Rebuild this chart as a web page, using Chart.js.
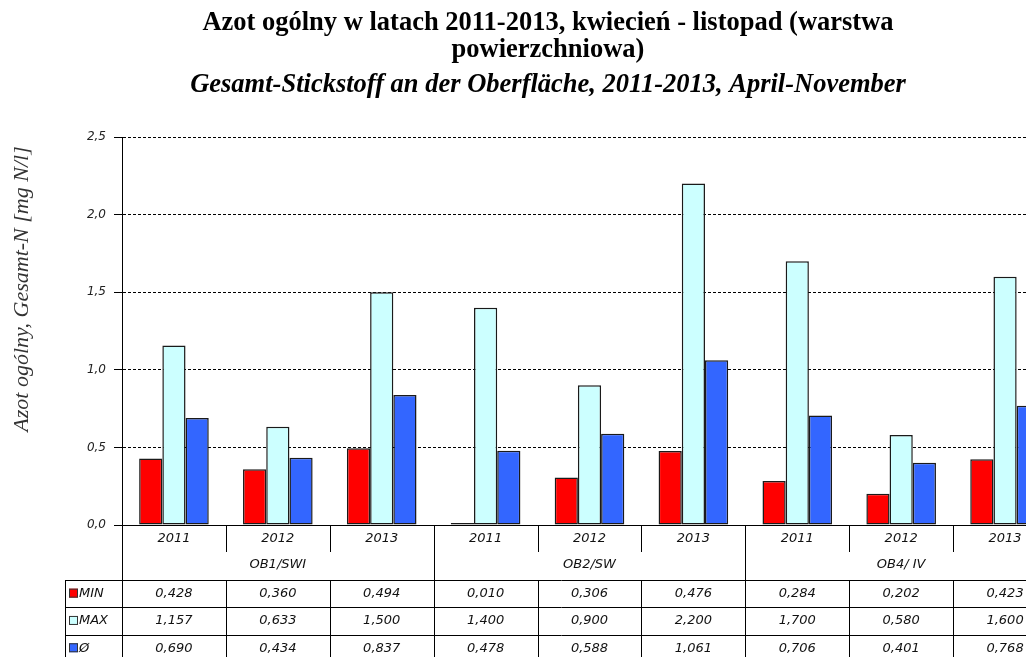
<!DOCTYPE html>
<html>
<head>
<meta charset="utf-8">
<script src="https://cdn.jsdelivr.net/npm/chart.js@4.4.1/dist/chart.umd.min.js"></script>
<style>
html, body { margin: 0; padding: 0; background: #fff; overflow: hidden; }
#wrap { width: 1026px; height: 657px; overflow: hidden; position: relative; }
canvas { display: block; }
</style>
</head>
<body>
<div id="wrap"><canvas id="nitrogenChart" width="1096" height="657"></canvas></div>
<script>
const years = ["2011", "2012", "2013", "2011", "2012", "2013", "2011", "2012", "2013"];
const groups = ["OB1/SWI", "OB2/SW", "OB4/ IV"];
const minValues = [0.428, 0.360, 0.494, 0.010, 0.306, 0.476, 0.284, 0.202, 0.423];
const maxValues = [1.157, 0.633, 1.500, 1.400, 0.900, 2.200, 1.700, 0.580, 1.600];
const avgValues = [0.690, 0.434, 0.837, 0.478, 0.588, 1.061, 0.706, 0.401, 0.768];
const seriesNames = ["MIN", "MAX", "Ø"];
const yTicks = [0, 0.5, 1.0, 1.5, 2.0, 2.5];

const titleLines = [
    "Azot ogólny w latach 2011-2013, kwiecień - listopad (warstwa",
    "powierzchniowa)"
];
const subtitle = "Gesamt-Stickstoff an der Oberfläche, 2011-2013, April-November";
const yTitle = "Azot ogólny, Gesamt-N [mg N/l]";

const colors = ["#ff0000", "#ccffff", "#3366ff"];
const fmt = v => v.toFixed(3).replace(".", ",");
const tableFont = "italic 13px 'DejaVu Sans'";

// titles, y-axis title and the data table under the x axis
const extras = {
    id: "extras",
    afterDraw(chart) {
        const ctx = chart.ctx;
        const x = chart.scales.x;
        const area = chart.chartArea;
        const cx = 548;

        ctx.save();
        ctx.fillStyle = "#000";
        ctx.textAlign = "center";
        ctx.textBaseline = "middle";
        ctx.font = "bold 26.5px 'Liberation Serif'";
        ctx.fillText(titleLines[0], cx, 23);
        ctx.fillText(titleLines[1], cx, 50);
        ctx.font = "italic bold 26.5px 'Liberation Serif'";
        ctx.fillText(subtitle, cx, 85);

        ctx.save();
        ctx.translate(22, 289);
        ctx.rotate(-Math.PI / 2);
        ctx.font = "italic 22px 'Liberation Serif'";
        ctx.fillStyle = "#333";
        ctx.fillText(yTitle, 0, 0);
        ctx.restore();

        const step = x.getPixelForValue(1) - x.getPixelForValue(0);
        const edge = i => Math.round(x.getPixelForValue(i) - step / 2) + 0.5;
        const b = area.bottom;
        const tableTop = b + 55;
        const rowH = 27.3;
        const legendLeft = 65.5;
        const n = years.length;

        ctx.strokeStyle = "#000";
        ctx.lineWidth = 1;
        ctx.beginPath();
        for (let i = 0; i <= n; i++) {
            const px = edge(i);
            if (i % 3 === 0) {
                ctx.moveTo(px, b); ctx.lineTo(px, tableTop + rowH * 3 + 5);
            } else {
                ctx.moveTo(px, b); ctx.lineTo(px, b + 27);
                ctx.moveTo(px, tableTop); ctx.lineTo(px, tableTop + rowH * 3 + 5);
            }
        }
        ctx.moveTo(legendLeft, tableTop); ctx.lineTo(legendLeft, tableTop + rowH * 3 + 5);
        for (let r = 0; r < 3; r++) {
            const py = Math.round(tableTop + rowH * r) + 0.5;
            ctx.moveTo(legendLeft, py); ctx.lineTo(edge(n), py);
        }
        ctx.stroke();

        ctx.font = tableFont;
        ctx.fillStyle = "#111";
        for (let i = 0; i < n; i++) {
            ctx.fillText(years[i], x.getPixelForValue(i), b + 14);
        }
        groups.forEach((g, gi) => {
            ctx.fillText(g, x.getPixelForValue(gi * 3 + 1), b + 40);
        });

        const rows = [minValues, maxValues, avgValues];
        rows.forEach((vals, r) => {
            const cy = tableTop + rowH * r + rowH / 2;
            vals.forEach((v, i) => ctx.fillText(fmt(v), x.getPixelForValue(i), cy));
            ctx.fillStyle = colors[r];
            ctx.fillRect(69, cy - 5, 9, 9);
            ctx.strokeStyle = "#333";
            ctx.strokeRect(69.5, cy - 4.5, 8, 8);
            ctx.fillStyle = "#111";
            ctx.textAlign = "left";
            ctx.fillText(seriesNames[r], 79, cy);
            ctx.textAlign = "center";
        });
        ctx.restore();
    }
};

const ctx = document.getElementById("nitrogenChart").getContext("2d");

const nitrogenChart = new Chart(ctx, {
    type: "bar",
    data: {
        labels: years.map((y, i) => groups[Math.floor(i / 3)] + " " + y),
        datasets: [minValues, maxValues, avgValues].map((vals, i) => ({
            label: seriesNames[i],
            data: vals,
            backgroundColor: colors[i],
            borderColor: "#1a1a1a",
            borderWidth: 1.5,
            borderSkipped: false,
            categoryPercentage: 0.67,
            barPercentage: 1.0,
            minBarLength: 2
        }))
    },
    options: {
        responsive: false,
        animation: false,
        devicePixelRatio: 1,
        layout: { padding: { top: 137, right: 39, bottom: 0, left: 0 } },
        plugins: {
            legend: { display: false },
            title: { display: false },
            tooltip: { enabled: false }
        },
        scales: {
            x: {
                ticks: { display: false },
                grid: { display: false },
                border: { display: true, color: "#000", width: 1 },
                afterFit(scale) {
                    scale.height = 132;
                    scale.paddingLeft = 0;
                    scale.paddingRight = 0;
                }
            },
            y: {
                min: 0,
                max: 2.5,
                afterBuildTicks(scale) {
                    scale.ticks = yTicks.map(v => ({ value: v }));
                },
                ticks: {
                    padding: 8,
                    color: "#222",
                    font: { family: "'DejaVu Sans'", size: 12, style: "italic" },
                    callback: v => v.toFixed(1).replace(".", ",")
                },
                grid: {
                    color: "#000",
                    tickLength: 8,
                    tickBorderDash: [],
                    tickColor: "#000"
                },
                border: { display: true, color: "#000", width: 1, dash: [3, 2] },
                afterFit(scale) {
                    scale.width = 122;
                    scale.paddingTop = 0;
                    scale.paddingBottom = 0;
                }
            }
        }
    },
    plugins: [extras]
});
</script>
</body>
</html>
